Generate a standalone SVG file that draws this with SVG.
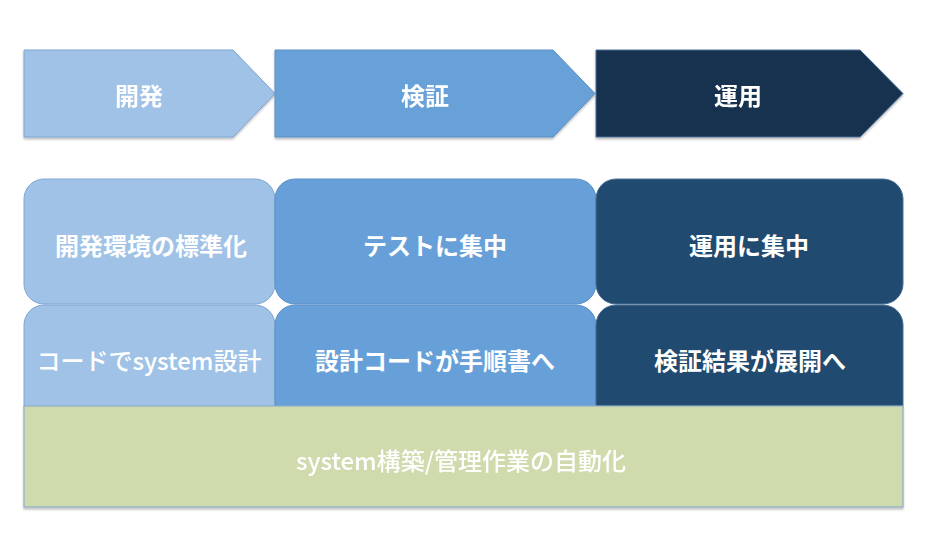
<svg xmlns="http://www.w3.org/2000/svg" width="927" height="547" viewBox="0 0 927 547">
  <style>
    text { font-family: "Noto Sans CJK JP", "Noto Sans", sans-serif; fill: #ffffff; font-size: 24px; text-anchor: middle; dominant-baseline: central; }
    .b { font-weight: 700; }
    .r { font-weight: 500; }
    .c1 { fill: #a0c2e6; stroke: #7ea6d3; stroke-width: 1; }
    .c2 { fill: #67a0d8; stroke: #5a8fc6; stroke-width: 1; }
    .c3a { fill: #17324f; stroke: #4a6f96; stroke-width: 1; }
    .c3 { fill: #214a70; stroke: #4a6f96; stroke-width: 1; }
    .g { fill: #cfdbad; stroke: #8fadc8; stroke-width: 1.2; }
  </style>
  <defs>
    <filter id="shadow" x="-5%" y="-5%" width="110%" height="120%">
      <feDropShadow dx="0" dy="2" stdDeviation="1.2" flood-color="#000000" flood-opacity="0.25"/>
    </filter>
  </defs>

  <!-- phase chevrons -->
  <g id="phase-dev" filter="url(#shadow)">
    <polygon class="c1" points="24,50 233,50 275,93.5 233,137 24,137"/>
    <text class="b" x="139" y="94">開発</text>
  </g>
  <g id="phase-verify" filter="url(#shadow)">
    <polygon class="c2" points="275,50 553,50 595,93.5 553,137 275,137"/>
    <text class="b" x="425" y="94">検証</text>
  </g>
  <g id="phase-ops" filter="url(#shadow)">
    <polygon class="c3a" points="596,50 860,50 903,93.5 860,137 596,137"/>
    <text class="b" x="738" y="94">運用</text>
  </g>

  <!-- second row: rounded boxes, bottoms hidden under the base bar -->
  <g id="dev-code">
    <rect class="c1" x="24" y="305" width="251" height="120" rx="20" ry="20"/>
    <text class="r" x="149" y="359">コードでsystem設計</text>
  </g>
  <g id="verify-code">
    <rect class="c2" x="275" y="305" width="321" height="120" rx="20" ry="20"/>
    <text class="b" x="435" y="359">設計コードが手順書へ</text>
  </g>
  <g id="ops-deploy">
    <rect class="c3" x="596" y="305" width="307" height="120" rx="20" ry="20"/>
    <text class="b" x="750" y="359">検証結果が展開へ</text>
  </g>

  <!-- first row: rounded boxes -->
  <g id="dev-env">
    <rect class="c1" x="24" y="179" width="251" height="125" rx="20" ry="20"/>
    <text class="b" x="151" y="244">開発環境の標準化</text>
  </g>
  <g id="verify-focus">
    <rect class="c2" x="275" y="179" width="321" height="125" rx="20" ry="20"/>
    <text class="b" x="435" y="244">テストに集中</text>
  </g>
  <g id="ops-focus">
    <rect class="c3" x="596" y="179" width="307" height="125" rx="20" ry="20"/>
    <text class="b" x="749" y="244">運用に集中</text>
  </g>

  <!-- base bar -->
  <g id="automation" filter="url(#shadow)">
    <rect class="g" x="24" y="406" width="879" height="101"/>
    <text class="r" x="461" y="459">system構築/管理作業の自動化</text>
  </g>

  <g id="connectors"></g>
</svg>
